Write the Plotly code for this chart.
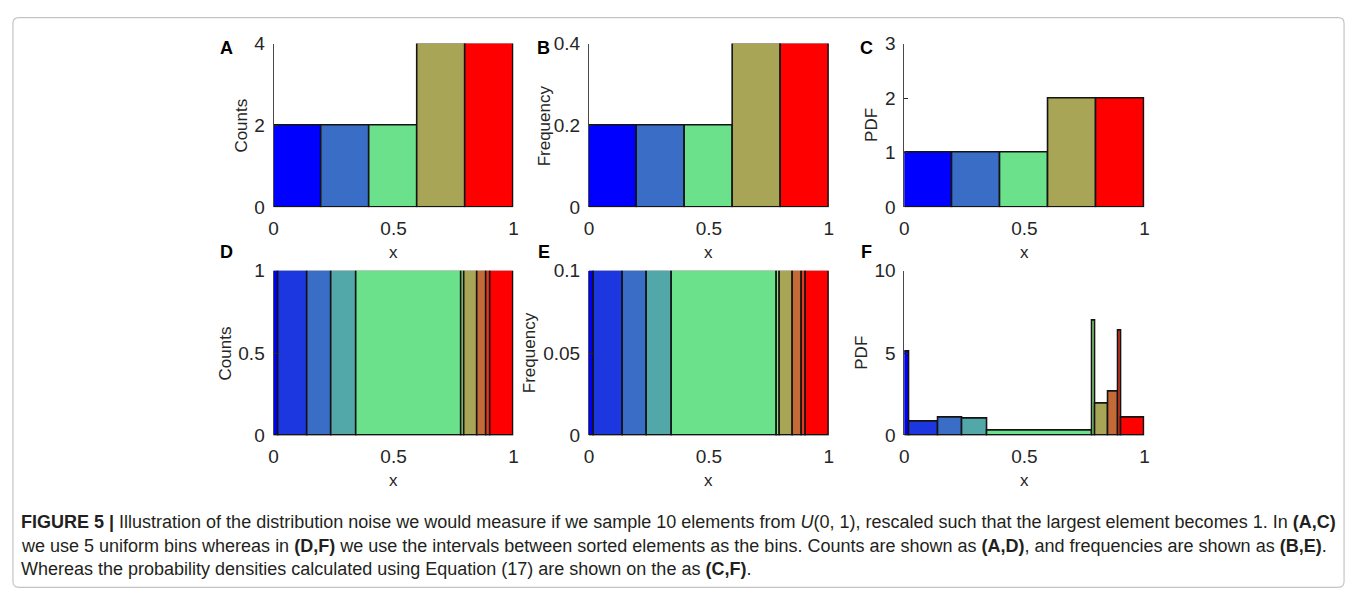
import plotly.graph_objects as go

W, H = 1357, 608

# ---- data -------------------------------------------------------------
# top row: five uniform bins on [0, 1]
uniform_edges = [0.0, 0.2, 0.4, 0.6, 0.8, 1.0]
uniform_counts = [2, 2, 2, 4, 4]
uniform_freq = [0.2, 0.2, 0.2, 0.4, 0.4]
uniform_pdf = [1, 1, 1, 2, 2]
uniform_colors = ["#0000ff", "#3a6ec6", "#6ce18c", "#a8a556", "#ff0000"]

# bottom row: bins are the gaps between the sorted samples
sorted_edges = [0.0, 0.021, 0.143, 0.240, 0.344, 0.782, 0.797, 0.850, 0.889, 0.904, 1.0]
sorted_counts = [1, 1, 1, 1, 1, 1, 1, 1, 1, 1]
sorted_freq = [0.1, 0.1, 0.1, 0.1, 0.1, 0.1, 0.1, 0.1, 0.1, 0.1]
sorted_pdf = [5.08, 0.86, 1.09, 1.02, 0.27, 6.95, 1.95, 2.68, 6.33, 1.09]
sorted_colors = ["#0000ff", "#1c36e0", "#3a6ec6", "#52a8a8", "#6ce18c",
                 "#8edc7e", "#a8a556", "#c46a38", "#e63a1e", "#ff0000"]

x_ticks = [0, 0.5, 1]
x_ticktext = ["0", "0.5", "1"]

panels = [
    # letter, edges, values, colors, y range, y ticks, y tick labels, y title
    ("A", uniform_edges, uniform_counts, uniform_colors, 4, [0, 2, 4], ["0", "2", "4"], "Counts"),
    ("B", uniform_edges, uniform_freq, uniform_colors, 0.4, [0, 0.2, 0.4], ["0", "0.2", "0.4"], "Frequency"),
    ("C", uniform_edges, uniform_pdf, uniform_colors, 3, [0, 1, 2, 3], ["0", "1", "2", "3"], "PDF"),
    ("D", sorted_edges, sorted_counts, sorted_colors, 1, [0, 0.5, 1], ["0", "0.5", "1"], "Counts"),
    ("E", sorted_edges, sorted_freq, sorted_colors, 0.1, [0, 0.05, 0.1], ["0", "0.05", "0.1"], "Frequency"),
    ("F", sorted_edges, sorted_pdf, sorted_colors, 10, [0, 5, 10], ["0", "5", "10"], "PDF"),
]

# ---- layout geometry (pixels) ----------------------------------------
col_px = [(270.5, 512.3), (588.3, 830.0), (906.0, 1148.0)]
row_px = [(34.7, 204.3), (270.0, 440.7)]
ytitle_px = [238, 543, 873, 222, 528, 862]
letter_px = [(223, 39), (543, 39), (868, 39), (223, 251), (543, 251), (868, 251)]

TXT = "#262626"
TICK_FONT = dict(family="Liberation Sans, Arial, sans-serif", size=19, color=TXT)
TITLE_FONT = dict(family="Liberation Sans, Arial, sans-serif", size=17, color=TXT)


def fx(p):
    return p / W


def fy(p):
    return 1 - p / H


fig = go.Figure()
annotations = []

for i, (letter, edges, vals, cols, ymax, yt, ytt, ytitle) in enumerate(panels):
    n = i + 1
    r, c = divmod(i, 3)
    centers = [(a + b) / 2 for a, b in zip(edges[:-1], edges[1:])]
    widths = [b - a for a, b in zip(edges[:-1], edges[1:])]
    fig.add_trace(go.Bar(
        x=centers, y=vals, width=widths,
        marker=dict(color=cols, line=dict(color="#141414", width=1.6)),
        xaxis=f"x{n}", yaxis=f"y{n}", showlegend=False, hoverinfo="skip",
    ))
    x0, x1 = col_px[c]
    y0, y1 = row_px[r]
    fig.update_layout(**{
        f"xaxis{n}": dict(
            domain=[fx(x0), fx(x1)], anchor=f"y{n}", range=[0, 1],
            tickvals=x_ticks, ticktext=x_ticktext, ticks="", showline=False,
            showgrid=False, zeroline=False, tickfont=TICK_FONT,
            ticklabelstandoff=8, fixedrange=True,
        ),
        f"yaxis{n}": dict(
            domain=[fy(y1), fy(y0)], anchor=f"x{n}", range=[0, ymax],
            tickvals=yt, ticktext=ytt, ticks="inside", ticklen=4,
            tickcolor=TXT, showline=True, linecolor="#4a4a4a", linewidth=1,
            showgrid=False, zeroline=False, tickfont=TICK_FONT,
            ticklabelstandoff=4, fixedrange=True,
        ),
    })
    # y title
    annotations.append(dict(
        text=ytitle, x=fx(ytitle_px[i]), y=fy((y0 + y1) / 2), xref="paper", yref="paper",
        xanchor="center", yanchor="middle", textangle=-90, showarrow=False,
        font=TITLE_FONT,
    ))
    # x title
    annotations.append(dict(
        text="x", x=fx((x0 + x1) / 2), y=fy(y1 + 47), xref="paper", yref="paper",
        xanchor="center", yanchor="middle", showarrow=False, font=TITLE_FONT,
    ))
    # panel letter
    lx, ly = letter_px[i]
    annotations.append(dict(
        text=f"<b>{letter}</b>", x=fx(lx), y=fy(ly), xref="paper", yref="paper",
        xanchor="center", yanchor="middle", showarrow=False,
        font=dict(family="Liberation Sans, Arial, sans-serif", size=18, color="#000000"),
    ))

# ---- caption ----------------------------------------------------------
caption_lines = [
    "<b>FIGURE 5 |</b> Illustration of the distribution noise we would measure if we sample 10 "
    "elements from <i>U</i>(0, 1), rescaled such that the largest element becomes 1. In <b>(A,C)</b>",
    "we use 5 uniform bins whereas in <b>(D,F)</b> we use the intervals between sorted elements as "
    "the bins. Counts are shown as <b>(A,D)</b>, and frequencies are shown as <b>(B,E)</b>.",
    "Whereas the probability densities calculated using Equation (17) are shown on the as <b>(C,F)</b>.",
]
caption_y = [530, 555, 579]
CAP_FONT = dict(family="Liberation Sans, Arial, sans-serif", size=18, color="#231f20")
for line, yy in zip(caption_lines, caption_y):
    annotations.append(dict(
        text=line, x=fx(14), y=fy(yy), xref="paper", yref="paper",
        xanchor="left", yanchor="middle", showarrow=False, font=CAP_FONT,
    ))


# rounded frame around figure and caption
def rounded_rect(x0, y0, x1, y1, r):
    rx, ry = r / W, r / H
    X0, X1 = fx(x0), fx(x1)
    Y0, Y1 = fy(y0), fy(y1)
    return (f"M {X0 + rx} {Y0} L {X1 - rx} {Y0} Q {X1} {Y0} {X1} {Y0 - ry} "
            f"L {X1} {Y1 + ry} Q {X1} {Y1} {X1 - rx} {Y1} "
            f"L {X0 + rx} {Y1} Q {X0} {Y1} {X0} {Y1 + ry} "
            f"L {X0} {Y0 - ry} Q {X0} {Y0} {X0 + rx} {Y0} Z")


fig.update_layout(
    width=W, height=H, margin=dict(l=0, r=0, t=0, b=0),
    paper_bgcolor="white", plot_bgcolor="rgba(0,0,0,0)",
    bargap=0, annotations=annotations,
    shapes=[dict(type="path", xref="paper", yref="paper",
                 path=rounded_rect(8, 8, 1349, 598, 6),
                 line=dict(color="#c4c4c4", width=1.2))],
)

fig.write_html("out.html")
